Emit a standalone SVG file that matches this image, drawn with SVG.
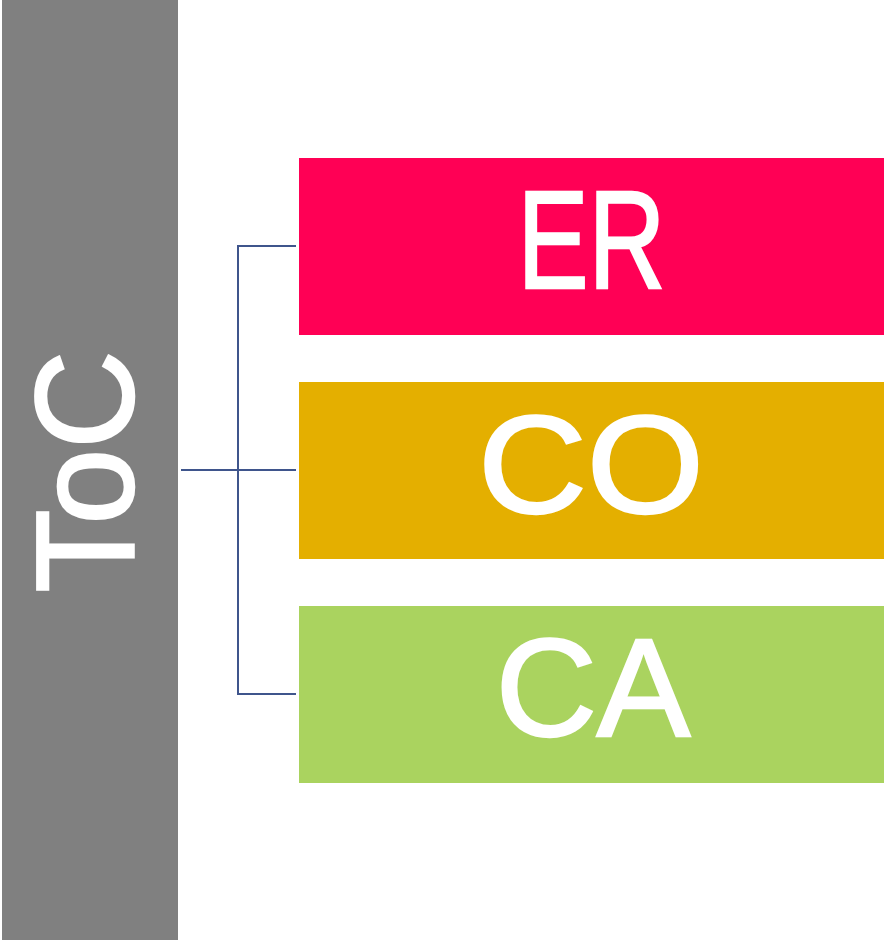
<svg xmlns="http://www.w3.org/2000/svg" width="884" height="940" viewBox="0 0 884 940">
  <style>
    .lbl { font-family: "Liberation Sans", Arial, sans-serif; font-size: 140px; fill: #FFFFFF; stroke: #FFFFFF; stroke-width: 2.5; stroke-linejoin: miter; text-anchor: middle; }
    .link { fill: none; stroke: #3F558C; stroke-width: 2; }
  </style>
  <rect width="884" height="940" fill="#FFFFFF"/>

  <g id="toc">
    <rect x="2" y="0" width="176" height="940" fill="#808080"/>
    <text class="lbl" transform="translate(133,471.5) rotate(-90)" x="0" y="0" textLength="242" lengthAdjust="spacingAndGlyphs">ToC</text>
  </g>

  <g id="connectors">
    <path class="link" d="M181,470 H296"/>
    <path class="link" d="M296,246 H238 V694 H296"/>
  </g>

  <g id="er">
    <rect x="299" y="158" width="585" height="177" fill="#FF0055"/>
    <text class="lbl" x="591.5" y="288" textLength="148" lengthAdjust="spacingAndGlyphs">ER</text>
  </g>

  <g id="co">
    <rect x="299" y="382" width="585" height="177" fill="#E4AF00"/>
    <text class="lbl" x="591" y="513" textLength="226" lengthAdjust="spacingAndGlyphs">CO</text>
  </g>

  <g id="ca">
    <rect x="299" y="606" width="585" height="177" fill="#AAD35F"/>
    <text class="lbl" x="593" y="736">CA</text>
  </g>
</svg>
